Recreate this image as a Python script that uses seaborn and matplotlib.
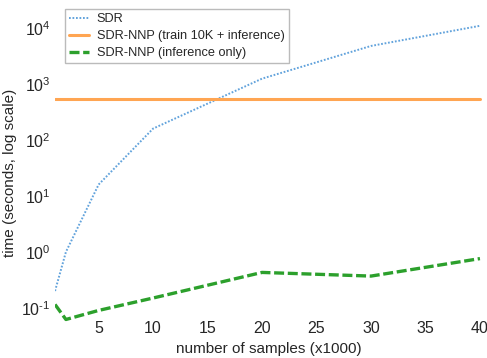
import pandas as pd
import seaborn as sns
import matplotlib.pyplot as plt
from matplotlib.ticker import LogLocator, FuncFormatter
import numpy as np

samples = [1, 2, 5, 10, 20, 30, 40]
sdr_time = [0.2, 1.0, 16, 160, 1250, 4800, 11000]
nnp_train_time = [530, 530, 530, 530, 530, 530, 530]
nnp_infer_time = [0.115, 0.062, 0.09, 0.15, 0.43, 0.37, 0.76]

labels = ["SDR", "SDR-NNP (train 10K + inference)", "SDR-NNP (inference only)"]

df = pd.DataFrame({
    "samples": samples * 3,
    "time": sdr_time + nnp_train_time + nnp_infer_time,
    "method": [labels[0]] * len(samples) + [labels[1]] * len(samples) + [labels[2]] * len(samples),
})

sns.set_style("white")
family = "Liberation Sans"
plt.rcParams["font.family"] = [family, "DejaVu Sans"]
plt.rcParams["axes.unicode_minus"] = False
plt.rcParams["mathtext.fontset"] = "custom"
plt.rcParams["mathtext.rm"] = family
plt.rcParams["mathtext.it"] = family

fig, ax = plt.subplots(figsize=(4.87, 3.58), dpi=100)

palette = {labels[0]: "#62a3dc", labels[1]: "#ffa552", labels[2]: "#2ca02c"}
widths = {labels[0]: 1.4, labels[1]: 2.2, labels[2]: 2.4}
styles = {labels[0]: (0, (0.9, 0.9)), labels[1]: "-", labels[2]: (0, (3.0, 1.1))}

for lab in labels:
    sub = df[df["method"] == lab]
    sns.lineplot(data=sub, x="samples", y="time", ax=ax, color=palette[lab],
                 linewidth=widths[lab], linestyle=styles[lab], label=lab)

ax.set_yscale("log")
ax.set_xlim(1, 40.2)
ax.set_ylim(0.029, 2.3e4)
ax.set_xticks([5, 10, 15, 20, 25, 30, 35, 40])
ax.yaxis.set_major_locator(LogLocator(base=10, numticks=10))
ax.yaxis.set_minor_locator(LogLocator(base=10, subs=range(2, 10), numticks=10))
ax.yaxis.set_major_formatter(FuncFormatter(
    lambda v, pos: r"$10^{\text{%d}}$" % int(round(np.log10(v)))))

sns.despine(ax=ax, left=True, bottom=True)
ax.tick_params(axis="both", which="both", direction="out", color="#aaaaaa",
               labelsize=11.5, length=2, width=1, pad=1)
ax.tick_params(axis="y", which="minor", length=2, color="#bbbbbb")
ax.tick_params(axis="x", which="major", direction="in", length=3, pad=-12)

ax.set_xlabel("number of samples (x1000)", fontsize=11, labelpad=3)
ax.set_ylabel("time (seconds, log scale)", fontsize=11, labelpad=3)

leg = ax.legend(loc="upper left", fontsize=9.2, frameon=True, fancybox=False,
                edgecolor="#aaaaaa", borderpad=0.3, labelspacing=0.4,
                handlelength=1.6, handletextpad=0.6, borderaxespad=0.1,
                bbox_to_anchor=(0.02, 1.0))
leg.get_frame().set_linewidth(1.0)

fig.subplots_adjust(left=0.113, right=0.99, top=0.978, bottom=0.056)
fig.savefig("out.png", dpi=100)
